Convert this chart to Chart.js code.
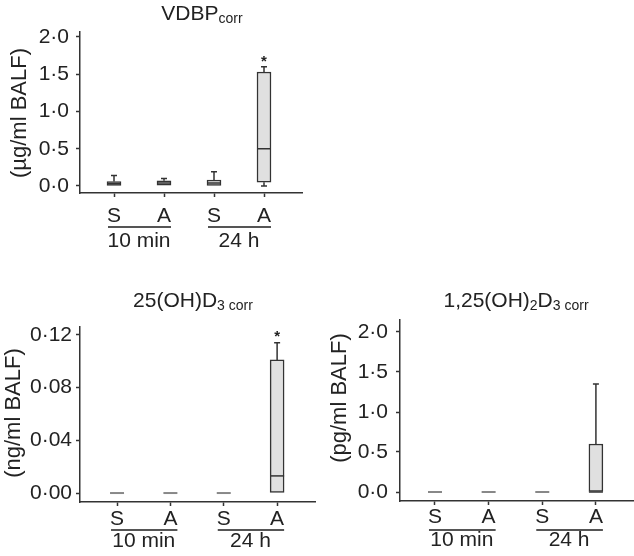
<!DOCTYPE html>
<html>
<head>
<meta charset="utf-8">
<script src="https://cdn.jsdelivr.net/npm/chart.js@4.4.0/dist/chart.umd.min.js"></script>
<style>
html, body { margin: 0; padding: 0; background: #fff; }
body { width: 634px; height: 556px; position: relative; overflow: hidden; }
canvas { position: absolute; }
</style>
</head>
<body>
<canvas id="vdbpChart" width="317" height="262" style="left:0;top:0"></canvas>
<canvas id="d25Chart" width="317" height="286" style="left:0;top:270px"></canvas>
<canvas id="d125Chart" width="317" height="286" style="left:317px;top:270px"></canvas>
<script>
const xLabels = ['S', 'A', 'S', 'A'];
const groupLabels = ['10 min', '24 h'];

// VDBPcorr (µg/ml BALF)
const vdbpMin = [0.00, 0.01, 0.00, 0.00];
const vdbpQ1 = [0.00, 0.01, 0.00, 0.05];
const vdbpMedian = [0.03, 0.04, 0.04, 0.50];
const vdbpQ3 = [0.06, 0.07, 0.08, 1.53];
const vdbpMax = [0.14, 0.10, 0.19, 1.60];
const vdbpStar = [null, null, null, 1.71];
const vdbpTicks = [0, 0.5, 1.0, 1.5, 2.0];

// 25(OH)D3corr (ng/ml BALF)
const d25Min = [0, 0, 0, 0];
const d25Q1 = [0, 0, 0, 0];
const d25Median = [0, 0, 0, 0.013];
const d25Q3 = [0, 0, 0, 0.101];
const d25Max = [0, 0, 0, 0.114];
const d25Star = [null, null, null, 0.121];
const d25Ticks = [0, 0.04, 0.08, 0.12];

// 1,25(OH)2D3corr (pg/ml BALF)
const d125Min = [0, 0, 0, 0];
const d125Q1 = [0, 0, 0, 0];
const d125Median = [0, 0, 0, 0];
const d125Q3 = [0, 0, 0, 0.60];
const d125Max = [0, 0, 0, 1.35];
const d125Star = [null, null, null, null];
const d125Ticks = [0, 0.5, 1.0, 1.5, 2.0];

const FONT = "'Liberation Sans', Arial, Helvetica, sans-serif";
const INK = '#333';

// whiskers, medians, stars and the text around each panel
const boxExtras = {
    id: 'boxExtras',
    afterDatasetsDraw(chart, args, opts) {
        const x = chart.scales.x, y = chart.scales.y, ctx = chart.ctx;
        const s = opts.stats;
        const half = 7;
        ctx.save();
        s.median.forEach((m, i) => {
            const px = x.getPixelForValue(i);
            ctx.strokeStyle = INK;
            ctx.lineWidth = 1.5;
            if (s.max[i] > s.q3[i]) {
                ctx.beginPath();
                ctx.moveTo(px, y.getPixelForValue(s.q3[i]));
                ctx.lineTo(px, y.getPixelForValue(s.max[i]));
                ctx.moveTo(px - 3, y.getPixelForValue(s.max[i]));
                ctx.lineTo(px + 3, y.getPixelForValue(s.max[i]));
                ctx.stroke();
            }
            if (s.min[i] < s.q1[i]) {
                ctx.beginPath();
                ctx.moveTo(px, y.getPixelForValue(s.q1[i]));
                ctx.lineTo(px, y.getPixelForValue(s.min[i]));
                ctx.moveTo(px - 3, y.getPixelForValue(s.min[i]));
                ctx.lineTo(px + 3, y.getPixelForValue(s.min[i]));
                ctx.stroke();
            }
            const flat = s.q3[i] === s.q1[i];
            ctx.strokeStyle = flat ? '#888' : INK;
            ctx.lineWidth = flat ? 2 : 1.5;
            ctx.beginPath();
            ctx.moveTo(px - half, y.getPixelForValue(m));
            ctx.lineTo(px + half, y.getPixelForValue(m));
            ctx.stroke();
            if (s.star[i] != null) {
                ctx.fillStyle = '#222';
                ctx.font = 'bold 15px ' + FONT;
                ctx.textAlign = 'center';
                ctx.textBaseline = 'middle';
                ctx.fillText('*', px, y.getPixelForValue(s.star[i]) + 3);
            }
        });
        ctx.restore();
    },
    afterDraw(chart, args, opts) {
        const x = chart.scales.x, ctx = chart.ctx;
        ctx.save();
        ctx.fillStyle = '#222';
        // title with subscripts
        const widths = opts.title.map(p => {
            ctx.font = (p.sub ? '14px ' : '21px ') + FONT;
            return ctx.measureText(p.t).width;
        });
        let tx = opts.titleX - widths.reduce((a, b) => a + b, 0) / 2;
        ctx.textAlign = 'left';
        ctx.textBaseline = 'alphabetic';
        opts.title.forEach((p, k) => {
            ctx.font = (p.sub ? '14px ' : '21px ') + FONT;
            ctx.fillText(p.t, tx, opts.titleY + (p.sub ? 3 : 0));
            tx += widths[k];
        });
        // y axis label
        ctx.save();
        ctx.translate(opts.yLabelX, opts.yLabelY);
        ctx.rotate(-Math.PI / 2);
        ctx.font = '22px ' + FONT;
        ctx.textAlign = 'center';
        ctx.textBaseline = 'middle';
        ctx.fillText(opts.yLabel, 0, 0);
        ctx.restore();
        // group labels
        ctx.font = '21px ' + FONT;
        ctx.textAlign = 'center';
        ctx.strokeStyle = '#555';
        ctx.lineWidth = 2;
        groupLabels.forEach((g, k) => {
            const x1 = x.getPixelForValue(2 * k);
            const x2 = x.getPixelForValue(2 * k + 1);
            ctx.beginPath();
            ctx.moveTo(x1 - 6, opts.lineY);
            ctx.lineTo(x2 + 7, opts.lineY);
            ctx.stroke();
            ctx.fillText(g, (x1 + x2) / 2, opts.groupY);
        });
        ctx.restore();
    }
};

function makeBoxChart(id, cfg) {
    const s = cfg.stats;
    new Chart(document.getElementById(id), {
        type: 'bar',
        data: {
            datasets: [{
                data: s.q1.map((q, i) => ({ x: i, y: [q, s.q3[i]] })),
                backgroundColor: '#e0e0e0',
                borderColor: INK,
                borderWidth: 1.5,
                borderSkipped: false,
                barThickness: 14
            }]
        },
        options: {
            responsive: false,
            animation: false,
            layout: { padding: { top: cfg.padTop, right: cfg.padRight, left: 0, bottom: 0 } },
            plugins: {
                legend: { display: false },
                tooltip: { enabled: false },
                boxExtras: {
                    stats: s,
                    title: cfg.title, titleX: cfg.titleX, titleY: cfg.titleY,
                    yLabel: cfg.yLabel, yLabelX: cfg.yLabelX, yLabelY: cfg.yLabelY,
                    lineY: cfg.lineY, groupY: cfg.groupY
                }
            },
            scales: {
                x: {
                    type: 'linear',
                    min: cfg.xMin,
                    max: cfg.xMax,
                    offset: false,
                    grid: { offset: false, drawOnChartArea: false, drawTicks: true, tickLength: 4, tickColor: INK, tickWidth: 1.5 },
                    border: { display: true, color: INK, width: 1.5 },
                    ticks: {
                        padding: cfg.xPad,
                        color: '#222',
                        font: { family: FONT, size: 21 },
                        maxRotation: 0,
                        autoSkip: false,
                        callback: v => xLabels[v] ?? ''
                    },
                    afterBuildTicks: sc => { sc.ticks = xLabels.map((_, i) => ({ value: i })); },
                    afterFit: sc => { sc.height = cfg.xHeight; }
                },
                y: {
                    min: cfg.yMin,
                    max: cfg.yMax,
                    grid: { drawOnChartArea: false, drawTicks: true, tickLength: 4, tickColor: INK, tickWidth: 1.5 },
                    border: { display: true, color: INK, width: 1.5 },
                    ticks: {
                        padding: cfg.yPad,
                        color: '#222',
                        font: { family: FONT, size: 21 },
                        callback: v => v.toFixed(cfg.decimals).replace('.', '·')
                    },
                    afterBuildTicks: sc => { sc.ticks = cfg.ticks.map(v => ({ value: v })); },
                    afterFit: sc => { sc.width = cfg.yWidth; }
                }
            }
        },
        plugins: [boxExtras]
    });
}

makeBoxChart('vdbpChart', {
    stats: { min: vdbpMin, q1: vdbpQ1, median: vdbpMedian, q3: vdbpQ3, max: vdbpMax, star: vdbpStar },
    ticks: vdbpTicks, decimals: 1,
    yMin: -0.094, yMax: 2.067, xMin: -0.68, xMax: 3.76,
    padTop: 32, padRight: 15, yWidth: 80, xHeight: 69, xPad: 7, yPad: 7,
    title: [{ t: 'VDBP' }, { t: 'corr', sub: true }], titleX: 202, titleY: 20,
    yLabel: '(µg/ml BALF)', yLabelX: 20, yLabelY: 113,
    lineY: 227, groupY: 247
});

makeBoxChart('d25Chart', {
    stats: { min: d25Min, q1: d25Q1, median: d25Median, q3: d25Q3, max: d25Max, star: d25Star },
    ticks: d25Ticks, decimals: 2,
    yMin: -0.0068, yMax: 0.126, xMin: -0.694, xMax: 3.71,
    padTop: 57, padRight: 2, yWidth: 80, xHeight: 54, xPad: 1, yPad: 4,
    title: [{ t: '25(OH)D' }, { t: '3 corr', sub: true }], titleX: 193, titleY: 37,
    yLabel: '(ng/ml BALF)', yLabelX: 14, yLabelY: 143,
    lineY: 260, groupY: 277
});

makeBoxChart('d125Chart', {
    stats: { min: d125Min, q1: d125Q1, median: d125Median, q3: d125Q3, max: d125Max, star: d125Star },
    ticks: d125Ticks, decimals: 1,
    yMin: -0.1125, yMax: 2.15, xMin: -0.652, xMax: 3.71,
    padTop: 50, padRight: 0, yWidth: 83, xHeight: 55, xPad: 0, yPad: 8,
    title: [{ t: '1,25(OH)' }, { t: '2', sub: true }, { t: 'D' }, { t: '3 corr', sub: true }], titleX: 199, titleY: 37,
    yLabel: '(pg/ml BALF)', yLabelX: 23, yLabelY: 128,
    lineY: 260, groupY: 276
});
</script>
</body>
</html>
